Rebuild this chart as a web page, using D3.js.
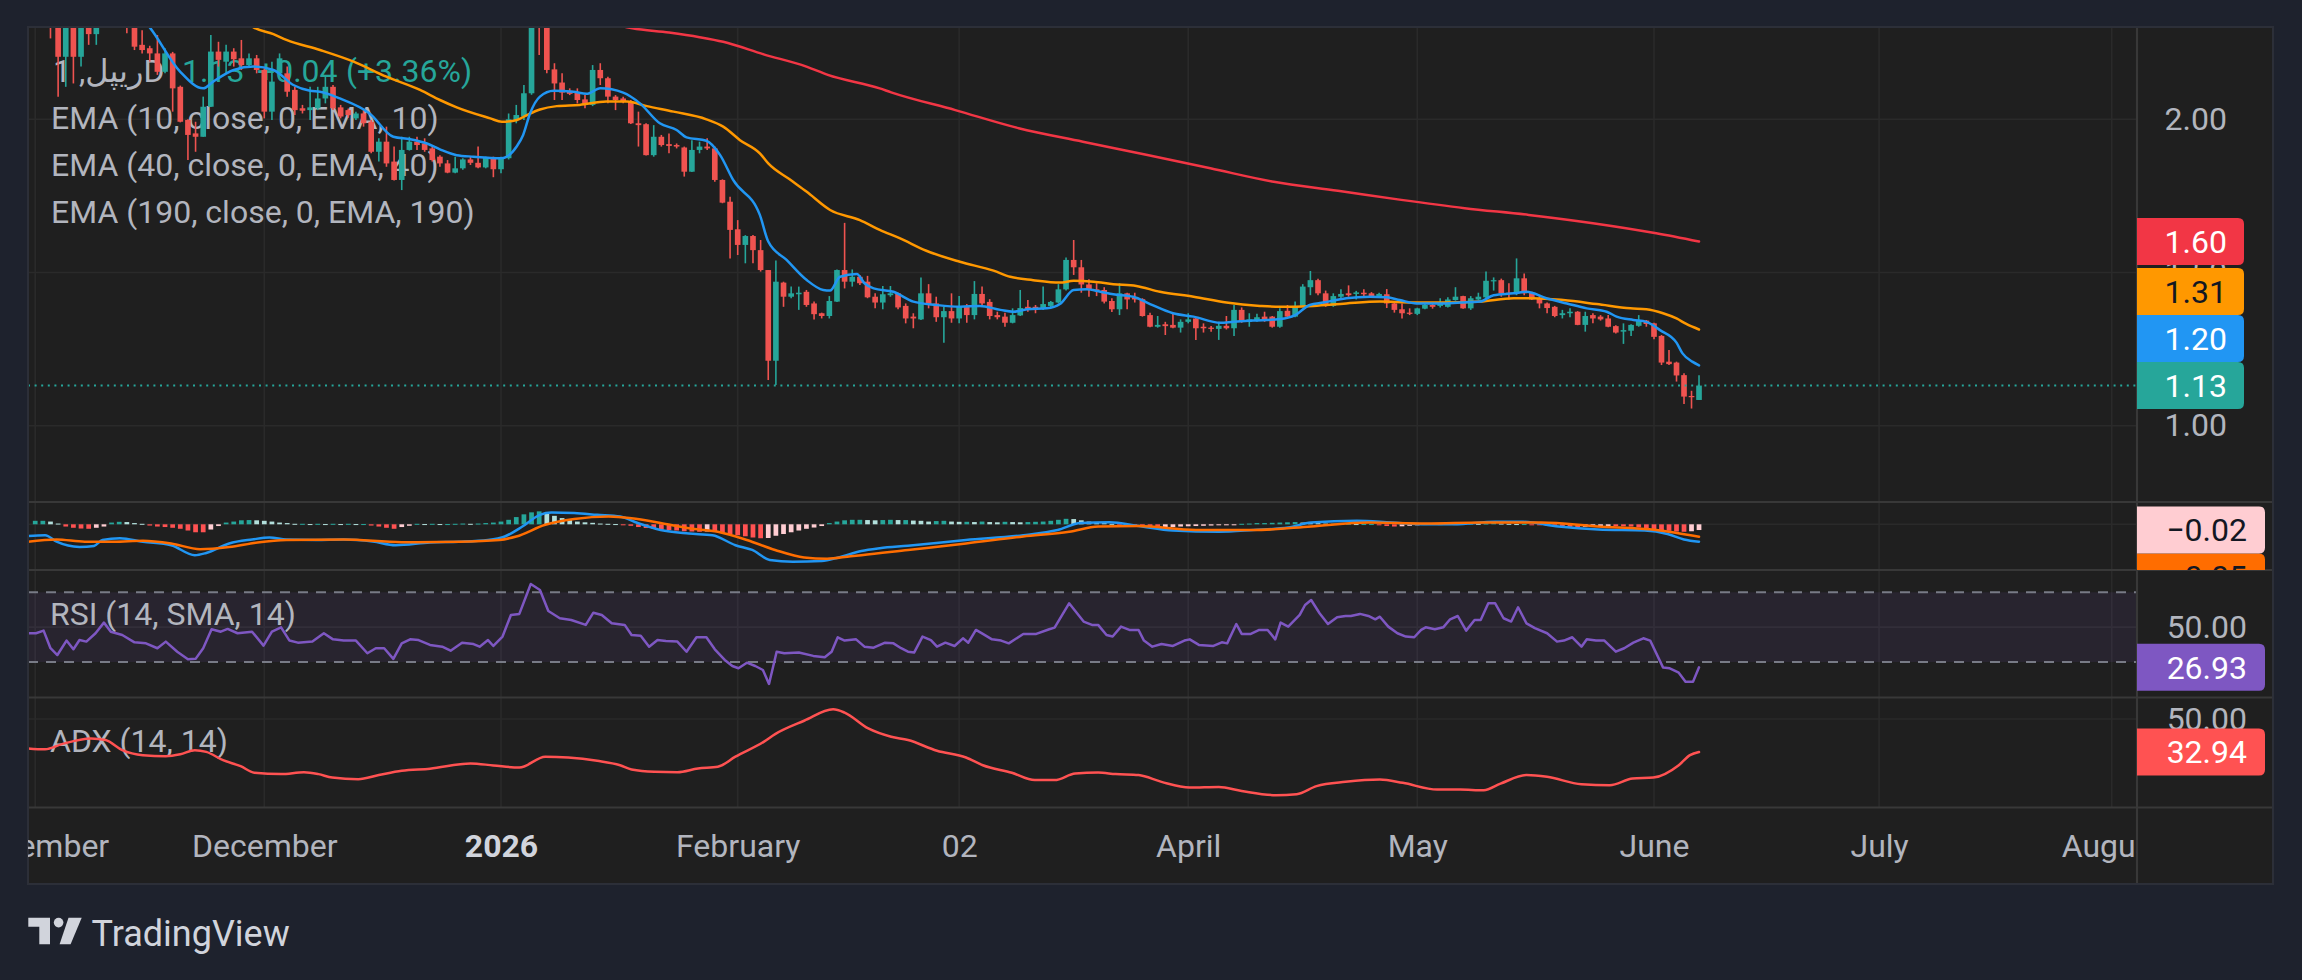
<!DOCTYPE html>
<html><head><meta charset="utf-8">
<script src="https://cdn.jsdelivr.net/npm/d3@7"></script>
<style>
html,body{margin:0;padding:0;background:#1e222d;}
svg{display:block;}
text{font-family:Roboto,"DejaVu Sans",sans-serif;}
</style></head><body>
<svg id="c" width="2302" height="980"></svg>
<script>
// ---------------- DATA ----------------
const firstBar = '2025-11-01';           // daily bars, consecutive days
// [open, high, low, close]
const candles = [
// November 2025
[2.40,2.45,2.33,2.38],[2.38,2.42,2.31,2.36],[2.36,2.42,2.264,2.33],[2.33,2.36,2.074,2.204],[2.204,2.36,2.106,2.32],
[2.32,2.35,2.117,2.204],[2.204,2.34,2.172,2.31],[2.31,2.33,2.243,2.278],[2.278,2.33,2.243,2.31],[2.31,2.38,2.30,2.36],
[2.36,2.40,2.32,2.38],[2.38,2.40,2.31,2.33],[2.33,2.36,2.281,2.31],[2.31,2.33,2.226,2.237],[2.243,2.291,2.215,2.226],
[2.232,2.24,2.188,2.215],[2.215,2.275,2.145,2.155],[2.155,2.232,2.150,2.215],[2.215,2.22,2.025,2.101],[2.106,2.11,1.99,1.992],
[1.998,2.00,1.867,1.949],[1.954,1.992,1.894,1.943],[1.943,2.074,1.943,2.041],[2.041,2.275,2.04,2.221],[2.221,2.253,2.172,2.194],
[2.188,2.243,2.150,2.221],[2.221,2.232,2.172,2.196],[2.199,2.259,2.161,2.177],[2.177,2.215,2.172,2.199],[2.199,2.210,2.150,2.161],
// December 2025
[2.161,2.166,2.003,2.025],[2.025,2.188,1.998,2.123],[2.150,2.215,2.145,2.199],[2.150,2.172,2.074,2.090],[2.096,2.106,2.014,2.030],
[2.036,2.047,2.019,2.028],[2.030,2.106,1.998,2.039],[2.036,2.106,2.030,2.068],[2.068,2.139,2.052,2.106],[2.106,2.112,2.030,2.036],
[2.039,2.047,2.003,2.009],[2.030,2.035,2.005,2.014],[2.003,2.025,1.998,2.019],[2.019,2.030,1.976,1.987],[1.992,1.998,1.889,1.894],
[1.894,1.938,1.862,1.927],[1.927,1.976,1.845,1.856],[1.862,1.911,1.80,1.802],[1.802,1.943,1.769,1.900],[1.900,1.943,1.898,1.927],
[1.927,1.943,1.900,1.916],[1.921,1.938,1.894,1.900],[1.905,1.911,1.862,1.867],[1.878,1.883,1.845,1.856],[1.856,1.867,1.824,1.826],
[1.826,1.878,1.824,1.840],[1.840,1.873,1.835,1.869],[1.869,1.878,1.851,1.858],[1.858,1.911,1.840,1.843],[1.843,1.878,1.840,1.876],
[1.876,1.878,1.811,1.837],
// January 2026
[1.837,1.878,1.824,1.873],[1.873,2.019,1.869,2.000],[1.998,2.047,1.987,2.014],[2.009,2.112,1.998,2.085],[2.085,2.40,2.08,2.33],
[2.40,2.45,2.210,2.32],[2.32,2.35,2.150,2.161],[2.163,2.183,2.063,2.117],[2.120,2.150,2.063,2.087],[2.093,2.101,2.079,2.083],
[2.087,2.101,2.052,2.063],[2.065,2.079,2.036,2.047],[2.047,2.177,2.043,2.161],[2.161,2.183,2.112,2.134],[2.134,2.139,2.052,2.074],
[2.074,2.079,2.030,2.063],[2.068,2.074,2.052,2.058],[2.058,2.063,1.985,1.987],[1.987,2.025,1.911,1.981],[1.984,1.987,1.882,1.883],
[1.883,1.981,1.878,1.943],[1.943,1.949,1.911,1.916],[1.919,1.954,1.889,1.913],[1.916,1.921,1.905,1.911],[1.908,1.911,1.813,1.829],
[1.829,1.932,1.828,1.900],[1.900,1.927,1.889,1.911],[1.911,1.938,1.900,1.905],[1.905,1.911,1.796,1.802],[1.802,1.804,1.726,1.728],
[1.731,1.747,1.546,1.639],
// February 2026
[1.641,1.671,1.557,1.590],[1.590,1.622,1.530,1.619],[1.619,1.622,1.530,1.573],[1.573,1.606,1.503,1.508],[1.508,1.508,1.149,1.212],
[1.212,1.539,1.133,1.470],[1.467,1.470,1.388,1.421],[1.421,1.454,1.416,1.432],[1.429,1.454,1.378,1.434],[1.437,1.443,1.388,1.394],
[1.399,1.405,1.347,1.364],[1.367,1.369,1.350,1.358],[1.358,1.423,1.350,1.407],[1.405,1.510,1.404,1.508],[1.508,1.662,1.448,1.470],
[1.470,1.510,1.454,1.486],[1.486,1.492,1.459,1.465],[1.470,1.489,1.416,1.419],[1.421,1.432,1.383,1.402],[1.402,1.456,1.380,1.429],
[1.426,1.456,1.421,1.432],[1.432,1.434,1.380,1.386],[1.391,1.399,1.334,1.350],[1.356,1.367,1.318,1.350],[1.347,1.484,1.345,1.432],
[1.432,1.462,1.383,1.397],[1.399,1.421,1.339,1.354],[1.354,1.388,1.271,1.374],
// March 2026
[1.374,1.432,1.336,1.350],[1.350,1.423,1.334,1.388],[1.391,1.397,1.336,1.361],[1.361,1.472,1.347,1.430],[1.430,1.454,1.394,1.399],
[1.404,1.413,1.347,1.358],[1.361,1.372,1.347,1.354],[1.356,1.369,1.323,1.336],[1.336,1.383,1.334,1.361],[1.360,1.443,1.358,1.384],
[1.388,1.410,1.372,1.380],[1.388,1.394,1.367,1.382],[1.382,1.454,1.378,1.397],[1.391,1.407,1.386,1.404],[1.402,1.462,1.399,1.445],
[1.445,1.549,1.441,1.541],[1.541,1.606,1.492,1.517],[1.517,1.541,1.434,1.461],[1.461,1.478,1.421,1.443],[1.445,1.465,1.423,1.441],
[1.443,1.452,1.399,1.405],[1.407,1.416,1.371,1.380],[1.380,1.465,1.361,1.432],[1.432,1.434,1.380,1.412],[1.419,1.434,1.402,1.412],
[1.413,1.416,1.356,1.358],[1.361,1.369,1.321,1.323],[1.323,1.358,1.320,1.329],[1.331,1.339,1.296,1.325],[1.329,1.367,1.318,1.320],
[1.320,1.347,1.304,1.339],
// April 2026
[1.339,1.367,1.334,1.347],[1.350,1.354,1.280,1.318],[1.323,1.334,1.304,1.318],[1.320,1.325,1.307,1.316],[1.316,1.339,1.280,1.326],
[1.326,1.358,1.314,1.318],[1.318,1.394,1.293,1.378],[1.378,1.386,1.336,1.339],[1.339,1.367,1.323,1.347],[1.345,1.365,1.339,1.354],
[1.356,1.372,1.339,1.347],[1.356,1.358,1.320,1.323],[1.323,1.383,1.320,1.374],[1.375,1.394,1.354,1.356],[1.356,1.405,1.354,1.391],
[1.391,1.462,1.388,1.454],[1.452,1.505,1.426,1.475],[1.475,1.480,1.426,1.432],[1.432,1.441,1.388,1.391],[1.391,1.432,1.388,1.423],
[1.421,1.445,1.412,1.430],[1.432,1.458,1.421,1.426],[1.430,1.440,1.412,1.435],[1.434,1.445,1.423,1.429],[1.432,1.436,1.419,1.421],
[1.421,1.434,1.417,1.430],[1.429,1.446,1.384,1.399],[1.399,1.402,1.369,1.378],[1.380,1.399,1.350,1.367],[1.369,1.383,1.361,1.365],
// May 2026
[1.365,1.385,1.361,1.383],[1.382,1.399,1.380,1.394],[1.394,1.402,1.382,1.388],[1.391,1.416,1.386,1.399],[1.388,1.419,1.386,1.412],
[1.410,1.452,1.408,1.421],[1.423,1.424,1.382,1.383],[1.383,1.423,1.378,1.416],[1.412,1.434,1.410,1.421],[1.419,1.503,1.416,1.473],
[1.471,1.484,1.441,1.475],[1.475,1.480,1.421,1.432],[1.434,1.465,1.412,1.430],[1.430,1.546,1.426,1.481],[1.481,1.497,1.426,1.432],
[1.434,1.437,1.410,1.412],[1.416,1.426,1.383,1.399],[1.399,1.402,1.367,1.384],[1.388,1.391,1.354,1.358],[1.361,1.378,1.350,1.367],
[1.367,1.383,1.354,1.372],[1.372,1.374,1.328,1.329],[1.329,1.372,1.307,1.358],[1.361,1.367,1.334,1.350],[1.356,1.361,1.343,1.347],
[1.350,1.361,1.321,1.323],[1.325,1.328,1.301,1.304],[1.307,1.334,1.267,1.312],[1.310,1.331,1.293,1.329],[1.326,1.361,1.323,1.343],
[1.343,1.345,1.323,1.332],
// June 2026
[1.334,1.336,1.282,1.290],[1.293,1.296,1.198,1.206],[1.209,1.247,1.198,1.201],[1.206,1.209,1.144,1.164],[1.165,1.171,1.071,1.095],
[1.097,1.114,1.056,1.093],[1.084,1.165,1.084,1.131]
];

// Indicator readings: [day offset from 2026-01-01, value]
const ema10 = [[-47,2.33],[-46,2.30],[-42,2.155],[-39,2.101],[-37.7,2.123],[-35,2.161],[-32.4,2.172],[-29.8,2.161],[-27.2,2.112],[-25,2.093],[-23.7,2.090],[-21.1,2.068],[-17.2,2.019],[-14.1,1.943],[-11.9,1.935],[-9.7,1.921],[-8,1.902],[-5.8,1.883],[-3.6,1.878],[0,1.873],[2.1,1.913],[2.9,1.949],[3.8,2.019],[5.1,2.074],[6.9,2.093],[9.5,2.090],[11.2,2.083],[13,2.101],[16,2.087],[18.2,2.052],[20.8,1.987],[23,1.965],[24.3,1.941],[26.9,1.930],[28.7,1.883],[30.4,1.802],[33.9,1.688],[35,1.601],[37.4,1.541],[40,1.476],[42.2,1.443],[43.1,1.441],[44.4,1.486],[46.6,1.495],[47.6,1.465],[48.8,1.448],[51.4,1.437],[54,1.405],[57,1.394],[60.1,1.388],[62.7,1.391],[65.4,1.378],[67.1,1.372],[68.9,1.380],[71.5,1.383],[73.2,1.397],[75,1.443],[76.7,1.445],[78.5,1.437],[80.2,1.429],[82.8,1.421],[85,1.397],[88,1.367],[90.7,1.356],[94.2,1.336],[95.9,1.339],[98.5,1.343],[102,1.348],[104,1.361],[105.9,1.394],[107.7,1.402],[110.7,1.416],[113.8,1.421],[116,1.419],[117.7,1.410],[119.9,1.399],[123,1.399],[125.6,1.402],[128.2,1.405],[130,1.426],[132.6,1.432],[134.3,1.437],[136.9,1.416],[139.6,1.399],[142.2,1.383],[144.8,1.372],[146.1,1.356],[148.3,1.345],[150,1.339],[151.8,1.312],[154,1.271],[154.8,1.236],[156.1,1.209],[157,1.197]];
const ema40 = [[-34,2.33],[-32.4,2.30],[-29.8,2.278],[-28.1,2.259],[-23.7,2.226],[-19.3,2.188],[-15,2.139],[-10.6,2.096],[-8,2.063],[-5.8,2.039],[-1.4,2.003],[0.1,1.992],[2.1,1.998],[3.4,2.014],[5.1,2.032],[7.3,2.043],[10.3,2.047],[13.8,2.058],[16.5,2.058],[19.1,2.043],[22.6,2.025],[26.9,2.000],[29.1,1.976],[31.3,1.932],[33.9,1.889],[35,1.856],[37.8,1.804],[40,1.764],[43.1,1.704],[47,1.671],[49.6,1.639],[52.2,1.612],[55.7,1.571],[60.1,1.535],[64.5,1.506],[66.7,1.486],[69.7,1.475],[73.2,1.467],[75,1.473],[77.6,1.470],[80.2,1.462],[83.2,1.456],[86.3,1.437],[90.7,1.421],[95,1.402],[99.4,1.391],[102,1.388],[106.4,1.391],[110.7,1.399],[115.1,1.405],[119.5,1.402],[123.8,1.402],[128.2,1.405],[132.6,1.416],[135.2,1.416],[139.1,1.410],[143.5,1.397],[147.9,1.383],[150,1.380],[152.2,1.367],[154,1.350],[155.3,1.332],[157,1.314]];
const ema190 = [[12,2.33],[17.2,2.297],[22,2.283],[26,2.268],[29.1,2.253],[34.4,2.212],[40,2.172],[42.8,2.145],[49.6,2.101],[51.1,2.088],[59.5,2.030],[67.8,1.971],[76.2,1.927],[84.5,1.884],[92.9,1.840],[101.2,1.796],[109.6,1.767],[117.9,1.737],[126.2,1.710],[134.6,1.688],[143,1.661],[151.3,1.628],[157,1.601]];

const macdLine = [[-62,-0.047],[-59.7,-0.044],[-58.2,-0.070],[-55.2,-0.091],[-53.3,-0.087],[-52.2,-0.063],[-49.9,-0.056],[-46.9,-0.070],[-43.2,-0.084],[-40.1,-0.124],[-38.6,-0.115],[-35.6,-0.077],[-32.6,-0.061],[-30.3,-0.053],[-28.1,-0.061],[-24.3,-0.063],[-20.6,-0.061],[-16.8,-0.069],[-13.8,-0.084],[-9.3,-0.073],[-5.5,-0.070],[-1.7,-0.063],[0.5,-0.049],[2.8,-0.009],[5.1,0.038],[6.6,0.047],[9.6,0.045],[12.6,0.038],[15.6,0.031],[17.9,0.005],[20.9,-0.023],[24.6,-0.037],[27.7,-0.044],[30.7,-0.084],[32.9,-0.103],[35.2,-0.143],[38.2,-0.150],[42,-0.147],[44.2,-0.133],[47.2,-0.107],[49.6,-0.096],[53.3,-0.086],[60.9,-0.063],[68.4,-0.044],[72.9,-0.023],[75.9,0.005],[79.7,0.008],[83.5,-0.007],[88,-0.025],[94,-0.030],[98.5,-0.023],[103.1,-0.013],[106.1,0.007],[112.1,0.014],[116.6,0.007],[121.1,0.000],[124.9,0.000],[130.2,0.010],[133.9,0.010],[138.5,-0.009],[143.7,-0.021],[149.8,-0.025],[152.8,-0.039],[155,-0.061],[157,-0.070]];
const signalLine = [[-62,-0.070],[-58.2,-0.061],[-54.5,-0.070],[-50.7,-0.070],[-46.9,-0.066],[-43.2,-0.077],[-39.4,-0.100],[-35.6,-0.091],[-31.9,-0.073],[-28.1,-0.063],[-20.6,-0.061],[-13,-0.072],[-5.5,-0.070],[-0.2,-0.063],[2,-0.049],[5.8,-0.002],[9.6,0.021],[14.1,0.031],[17.1,0.024],[20.9,0.005],[24.6,-0.016],[28.4,-0.030],[32.2,-0.063],[35.9,-0.103],[39.7,-0.133],[42.7,-0.138],[45.8,-0.128],[47.2,-0.124],[53.3,-0.103],[60.9,-0.077],[68.4,-0.049],[74.4,-0.030],[78.2,-0.009],[83.5,-0.007],[91,-0.023],[98.5,-0.023],[106.1,-0.009],[113.6,0.007],[121.1,0.003],[128.7,0.007],[136.2,0.007],[143.7,-0.009],[151.3,-0.023],[157,-0.050]];
// MACD histogram, one value per bar (from firstBar)
const macdHist = [
.014,.014,.011,.003,-.009,-.014,-.017,-.018,-.014,-.009,.007,.010,.009,.005,.002,
-.005,-.009,-.011,-.014,-.018,-.025,-.032,-.032,-.021,-.007,.007,.011,.016,.017,.016,.014,.011,
.007,.005,.002,.002,.001,.002,.001,.002,.001,.002,.001,.001,-.005,-.009,-.014,-.018,-.011,-.006,
.002,.001,.002,.001,.001,.002,.003,.002,.003,.005,.007,.011,.018,.029,.040,.048,.052,
.046,.034,.025,.017,.011,.008,.006,.003,.002,.001,-.002,
-.006,-.011,-.015,-.018,-.021,-.023,-.025,-.028,-.029,-.030,-.029,-.030,-.034,-.039,
-.044,-.048,-.053,-.056,-.055,-.046,-.039,-.032,-.025,-.018,-.013,-.007,
.005,.011,.016,.018,.018,.017,.016,.017,.018,.017,.017,.015,.014,.011,.013,.014,.011,.010,
.010,.009,.011,.009,.008,.010,.009,.008,.009,.010,.011,.014,.018,.022,.021,.016,.011,.008,.005,.002,
-.002,-.006,-.009,-.011,-.014,-.015,-.014,-.011,-.009,-.008,-.007,-.006,-.005,-.003,-.002,-.001,
.002,.003,.005,.005,.006,.007,.008,.009,.007,.006,.005,.003,.003,.002,.002,.001,.001,.001,
-.003,-.007,-.009,-.008,-.006,-.002,.001,.002,.001,.002,.001,.002,.003,.002,
.003,.005,.003,.002,.001,.001,-.001,-.002,
-.005,-.007,-.009,-.010,-.011,-.010,-.009,-.008,-.007,-.007,-.008,-.009,
-.013,-.016,-.019,-.023,-.026,-.029,-.030,-.028,-.023
];
const rsi = [[-62,46.5],[-60.9,46.5],[-59.9,48.0],[-59,37.9],[-58.1,34.0],[-56.9,42.3],[-56,37.3],[-55.2,42.6],[-54.3,41.7],[-53.1,46.5],[-52,52.6],[-51.1,47.4],[-49.6,45.5],[-48,41.3],[-46.5,40.7],[-45,37.9],[-43.9,41.7],[-42.4,35.9],[-41,31.6],[-40,31.8],[-39,37.9],[-37.9,48.8],[-36.7,47.4],[-35.8,49.0],[-34.5,46.5],[-32.6,47.4],[-31.1,39.4],[-30,47.4],[-28.8,49.9],[-27.7,42.3],[-26.6,41.1],[-24.7,41.7],[-23.2,46.5],[-22,43.0],[-20.6,42.3],[-19,42.3],[-17.5,35.0],[-16.4,37.9],[-15.3,37.9],[-14.1,31.8],[-13,40.7],[-11.9,43.0],[-10.8,42.6],[-9.3,39.8],[-7.7,38.8],[-6.6,36.5],[-5.1,41.1],[-3.6,40.3],[-2.8,38.8],[-1.7,42.6],[-1,39.2],[0.2,44.6],[1.3,57.0],[2.4,57.6],[3.9,74.8],[5.1,71.3],[6.2,59.3],[7.7,55.1],[9.2,54.1],[11.1,51.3],[12.1,58.3],[13.2,57.0],[14.5,52.2],[16.2,51.3],[17.1,45.5],[18.3,45.1],[19.4,38.8],[20.5,42.6],[21.6,42.1],[23.1,41.7],[24.3,35.9],[25.6,44.2],[26.9,44.2],[28,37.3],[29.3,31.2],[30.3,27.7],[31.1,26.4],[32.2,29.6],[33.3,27.7],[34.3,25.4],[35.1,17.4],[36.1,35.9],[37.1,35.0],[39,35.4],[40.9,33.5],[42.4,32.7],[43.3,35.9],[44.1,44.2],[45,42.3],[46.5,43.0],[47.6,38.8],[48.8,38.2],[50.3,41.1],[51.4,40.7],[52.4,37.9],[53.3,35.9],[54.1,35.4],[55.2,44.6],[56.3,42.6],[57.1,38.8],[58.2,41.1],[59.4,39.2],[60.5,43.6],[61.2,41.1],[62.2,48.4],[63.1,46.1],[64.3,43.0],[65.5,42.3],[66.5,40.7],[68.4,46.1],[70.1,46.1],[71.8,48.8],[72.5,49.7],[74.4,63.7],[76.3,53.2],[77.4,51.3],[78.2,51.3],[79.3,45.5],[80.1,44.6],[81.2,50.3],[82.3,48.4],[83.5,48.4],[84.2,42.3],[85.3,38.8],[86.5,40.3],[88,39.2],[89.5,42.3],[90.2,43.0],[91.4,39.8],[93.3,39.2],[94.4,41.3],[95.1,40.7],[96.3,51.8],[97,46.1],[98.2,46.1],[99.3,48.4],[100.4,48.4],[101.4,43.0],[102.1,52.6],[103.1,50.3],[104.6,57.0],[105.3,62.7],[106.1,65.6],[107.2,58.0],[108.3,51.8],[109.5,55.7],[110.6,56.4],[111.3,56.4],[112.5,57.6],[113.6,56.4],[114.5,54.5],[115.1,56.0],[116.2,50.3],[117.4,46.5],[118.5,44.6],[119.6,44.2],[120.5,48.4],[121.1,49.9],[122.3,48.8],[123.4,49.9],[124.3,54.5],[125.3,56.4],[126.4,48.0],[127.5,54.1],[128.3,54.1],[129.3,63.7],[130.2,63.7],[131.3,55.1],[132.3,53.2],[133.2,61.4],[134.3,52.2],[135.4,49.4],[137,46.5],[138.3,41.7],[139.2,42.3],[140.3,44.2],[141.5,38.8],[142.2,43.0],[143.4,42.3],[144.5,42.3],[146,35.9],[147.1,37.9],[148.3,41.1],[149.6,43.6],[150.5,42.3],[152.2,26.9],[153.1,26.4],[154.3,23.9],[155.2,18.7],[156.2,18.7],[157,26.93]];
const adx = [[-62,34.8],[-59.7,34.3],[-57.5,37.0],[-53.7,39.9],[-51.8,39.1],[-49.6,33.9],[-46.9,31.3],[-43.9,30.8],[-42,31.8],[-40.1,33.9],[-38.6,33.0],[-36.4,28.7],[-34.1,25.6],[-32.3,22.2],[-28.8,21.5],[-25.8,22.5],[-23.9,21.5],[-22.1,19.7],[-18.7,18.9],[-16,21.0],[-13,23.2],[-9.3,24.3],[-4,27.0],[-1,26.0],[2.4,24.9],[5.8,30.5],[8.8,30.1],[12.6,28.4],[15.6,26.1],[17.1,23.9],[20.1,22.7],[23.1,22.5],[25.8,24.4],[28.4,25.3],[30.7,30.5],[34.4,38.2],[35.9,42.2],[39.7,49.1],[43.5,55.0],[45,53.3],[48.1,45.1],[51.1,40.8],[53.3,39.1],[57.1,33.6],[60.9,30.1],[63.1,26.1],[66.9,22.2],[69.9,18.4],[72.5,18.4],[75.2,21.8],[78.2,22.3],[80.5,21.5],[83.5,21.0],[86.5,17.5],[90.2,14.6],[94,14.9],[97,12.8],[101.5,10.6],[104.2,11.1],[106.8,15.3],[110.6,17.5],[115.1,18.7],[118.1,17.0],[122.6,13.5],[125.6,13.5],[128.7,13.2],[130.9,16.6],[134.3,21.0],[137,20.1],[141.5,16.3],[145.2,15.8],[148.2,19.2],[150.9,19.7],[154.3,26.1],[155.8,31.3],[157,32.94]];

const timeTicks = [['2025-11-01','November'],['2025-12-01','December'],['2026-01-01','2026'],['2026-02-01','February'],['2026-03-02','02'],['2026-04-01','April'],['2026-05-01','May'],['2026-06-01','June'],['2026-07-01','July'],['2026-08-01','August']];
const priceTicks = [1.00, 1.50, 2.00];
const titleName = 'ریپل, 1D';
const titleValues = ['1.13', '+0.04', '(+3.36%)'];
const legendLines = ['EMA (10, close, 0, EMA, 10)', 'EMA (40, close, 0, EMA, 40)', 'EMA (190, close, 0, EMA, 190)'];

// ---------------- LAYOUT ----------------
const FS = 32;
const svg = d3.select('#c');
const L = 28, R = 2137, RR = 2273, T = 27, B = 884;
const P = {price:[T,502], macd:[502,570], rsi:[570,697.5], adx:[697.5,807.5], time:[807.5,B]};
const UP = '#26a69a', DN = '#ef5350', GRID = '#2a2a2a', SEP = '#383838', TXT = '#b2b5be';

const parse = d3.utcParse('%Y-%m-%d');
const J1 = Date.UTC(2026,0,1), DAY = 864e5;
const x = d3.scaleUtc()
  .domain([new Date(J1), parse('2026-06-01'), parse('2026-08-01')])
  .range([501, 1654, 2111.7]);
const xd = d => x(new Date(J1 + d*DAY));
const step = x(new Date(J1 + DAY)) - x(new Date(J1));
const firstD = (parse(firstBar) - J1) / DAY;

const yP = d3.scaleLinear().domain([1, 2]).range([425.7, 119.3]);
const yM = d3.scaleLinear().domain([0, -0.1]).range([524.3, 549.2]);
const yR = d3.scaleLinear().domain([30, 70]).range([662, 592.3]);
const yA = d3.scaleLinear().domain([0, 50]).range([815.7, 719]);

svg.append('rect').attr('width',2302).attr('height',980).attr('fill','#1e222d');
svg.append('rect').attr('x',L).attr('y',T).attr('width',RR-L).attr('height',B-T).attr('fill','#1f1f1f');

const defs = svg.append('defs');
function clip(id, x0, y0, x1, y1){
  defs.append('clipPath').attr('id',id).append('rect').attr('x',x0).attr('y',y0).attr('width',x1-x0).attr('height',y1-y0);
  return 'url(#'+id+')';
}
const cPrice = clip('cp', L, P.price[0], R, P.price[1]);
const cMacd = clip('cm', L, P.macd[0], R, P.macd[1]);
const cRsi = clip('cr', L, P.rsi[0], R, P.rsi[1]);
const cAdx = clip('ca', L, P.adx[0], R, P.adx[1]);
const cTime = clip('ct', L, P.time[0], R, P.time[1]);
const cMacdAx = clip('cma', R, P.macd[0], RR, P.macd[1]);

// vertical grid
const tickDates = timeTicks.map(t => parse(t[0]));
svg.append('g').selectAll('line').data(tickDates).join('line')
  .attr('x1', d => x(d)).attr('x2', d => x(d)).attr('y1', T).attr('y2', P.adx[1])
  .attr('stroke', GRID).attr('stroke-width', 1.6);

// horizontal grid
const hg = svg.append('g').attr('stroke', GRID).attr('stroke-width', 1.6);
priceTicks.forEach(v => hg.append('line').attr('x1',L).attr('x2',R).attr('y1',yP(v)).attr('y2',yP(v)));
hg.append('line').attr('x1',L).attr('x2',R).attr('y1',yM(0)).attr('y2',yM(0));
hg.append('line').attr('x1',L).attr('x2',R).attr('y1',yR(50)).attr('y2',yR(50));
hg.append('line').attr('x1',L).attr('x2',R).attr('y1',yA(50)).attr('y2',yA(50));

// RSI band
svg.append('rect').attr('x',L).attr('width',R-L).attr('y',yR(70)).attr('height',yR(30)-yR(70))
  .attr('fill','rgba(126,87,194,0.1)');
[70,30].forEach(v => svg.append('line').attr('x1',L).attr('x2',R).attr('y1',yR(v)).attr('y2',yR(v))
  .attr('stroke','#787b86').attr('stroke-width',2).attr('stroke-dasharray','10,8'));

// legends (drawn under the series)
const lg = svg.append('g').attr('font-size',FS).attr('fill',TXT);
lg.append('text').attr('x',53).attr('y',82).attr('direction','ltr').text(titleName);
const tv = lg.append('text').attr('y',82).attr('fill',UP);
[182,257,346].forEach((xx,i) => tv.append('tspan').attr('x',xx).text(titleValues[i]));
legendLines.forEach((s,i) => lg.append('text').attr('x',51).attr('y',129 + i*47).text(s));
lg.append('text').attr('x',50).attr('y',625).text('RSI (14, SMA, 14)');
lg.append('text').attr('x',50).attr('y',751.7).text('ADX (14, 14)');

// candles
const bars = candles.map((c,i) => ({d: firstD + i, o:c[0], h:c[1], l:c[2], c:c[3]}));
const gc = svg.append('g').attr('clip-path', cPrice);
gc.selectAll('line.w').data(bars).join('line').attr('class','w')
  .attr('x1', b => xd(b.d)).attr('x2', b => xd(b.d))
  .attr('y1', b => yP(b.h)).attr('y2', b => yP(b.l))
  .attr('stroke', b => b.c >= b.o ? UP : DN).attr('stroke-width', 1.6);
const bw = step * 0.74;
gc.selectAll('rect').data(bars).join('rect')
  .attr('x', b => xd(b.d) - bw/2).attr('width', bw)
  .attr('y', b => yP(Math.max(b.o, b.c)))
  .attr('height', b => Math.max(1.2, Math.abs(yP(b.o) - yP(b.c))))
  .attr('fill', b => b.c >= b.o ? UP : DN);

// EMA lines
function line(data, yS, color, g, curve){
  g.append('path').datum(data)
    .attr('d', d3.line().x(p => xd(p[0])).y(p => yS(p[1])).curve(curve || d3.curveMonotoneX))
    .attr('fill','none').attr('stroke',color).attr('stroke-width',2.5)
    .attr('stroke-linejoin','round').attr('stroke-linecap','round');
}
line(ema190, yP, '#f23645', gc);
line(ema40, yP, '#ff9800', gc);
line(ema10, yP, '#2196f3', gc);

// last price dotted line
const last = bars[bars.length-1];
svg.append('line').attr('x1',L).attr('x2',R).attr('y1',yP(last.c)).attr('y2',yP(last.c))
  .attr('stroke',UP).attr('stroke-width',2).attr('stroke-dasharray','2,4.6');

// MACD
const gm = svg.append('g').attr('clip-path', cMacd);
const hist = macdHist.map((v,i) => ({d: firstD + i, v, p: i ? macdHist[i-1] : v}));
const hw = step * 0.62;
gm.selectAll('rect').data(hist).join('rect')
  .attr('x', h => xd(h.d) - hw/2).attr('width', hw)
  .attr('y', h => Math.min(yM(0), yM(h.v)))
  .attr('height', h => Math.max(1, Math.abs(yM(h.v) - yM(0))))
  .attr('fill', h => h.v >= 0 ? (h.v >= h.p ? '#26a69a' : '#b2dfdb') : (h.v <= h.p ? '#ff5252' : '#ffcdd2'));
line(macdLine, yM, '#2196f3', gm);
line(signalLine, yM, '#ff6d00', gm);

// RSI & ADX
const gr = svg.append('g').attr('clip-path', cRsi);
line(rsi, yR, '#7e57c2', gr, d3.curveLinear);
const ga = svg.append('g').attr('clip-path', cAdx);
line(adx, yA, '#ff5252', ga);

// separators and frame
const sg = svg.append('g').attr('stroke', SEP).attr('stroke-width', 2.2);
[P.macd[0], P.rsi[0], P.adx[0], P.time[0]].forEach(y => sg.append('line').attr('x1',L).attr('x2',RR).attr('y1',y).attr('y2',y));
sg.append('line').attr('x1',R).attr('x2',R).attr('y1',T).attr('y2',B);
svg.append('rect').attr('x',L).attr('y',T).attr('width',RR-L).attr('height',B-T)
  .attr('fill','none').attr('stroke','#2c2f38').attr('stroke-width',2);

// time axis
const tAxis = d3.axisBottom(x).tickValues(tickDates)
  .tickFormat((d,i) => timeTicks[i][1]).tickSize(0);
const taWrap = svg.append('g').attr('clip-path', cTime);
const ta = taWrap.append('g').attr('transform','translate(0,'+P.time[0]+')').call(tAxis);
ta.select('.domain').remove();
ta.selectAll('text').attr('y', 49.5).attr('dy', 0)
  .attr('font-size', FS).attr('font-family','Roboto, sans-serif')
  .attr('fill', (d,i) => i === 2 ? '#d1d4dc' : TXT)
  .attr('font-weight', (d,i) => i === 2 ? 700 : 400);

// value axes
function valueAxis(scale, ticks, fmt, textRight){
  const a = d3.axisRight(scale).tickValues(ticks).tickFormat(fmt).tickSize(0);
  const g = svg.append('g').attr('transform','translate('+R+',0)').call(a);
  g.select('.domain').remove();
  g.selectAll('text').attr('x', textRight - R).attr('text-anchor','end')
    .attr('font-size',FS).attr('font-family','Roboto, sans-serif').attr('fill',TXT);
  return g;
}
valueAxis(yP, priceTicks, d3.format('.2f'), 2227);
valueAxis(yR, [50], d3.format('.2f'), 2247);
valueAxis(yA, [50], d3.format('.2f'), 2247);

// value labels
function rrPath(x0, y0, w, h, r){
  return `M${x0},${y0}H${x0+w-r}Q${x0+w},${y0} ${x0+w},${y0+r}V${y0+h-r}Q${x0+w},${y0+h} ${x0+w-r},${y0+h}H${x0}Z`;
}
const LH = 47;
function tag(g, cy, text, bg, fg, w, textRight){
  g.append('path').attr('d', rrPath(R, cy - LH/2, w, LH, 6)).attr('fill', bg);
  g.append('text').attr('x', textRight).attr('y', cy).attr('dy','0.35em').attr('text-anchor','end')
    .attr('font-size',FS).attr('fill',fg).text(text);
}
const fmt2 = v => d3.format('.2f')(v).replace('-', '\u2212');
// price pane labels, stacked upwards from the last price
const pl = [
  {v: last.c, bg: UP, fg:'#fff'},
  {v: ema10[ema10.length-1][1], bg:'#2196f3', fg:'#fff'},
  {v: ema40[ema40.length-1][1], bg:'#ff9800', fg:'#131722'},
  {v: ema190[ema190.length-1][1], bg:'#f23645', fg:'#fff'}
];
let prevY = null;
const gl = svg.append('g');
pl.forEach(p => {
  let cy = yP(p.v);
  if (prevY !== null) cy = Math.min(cy, prevY - LH);
  prevY = cy;
  p.cy = cy;
});
pl.slice().reverse().forEach(p => tag(gl, p.cy, fmt2(p.v), p.bg, p.fg, 107, 2227));
// MACD labels
const gml = svg.append('g').attr('clip-path', cMacdAx);
const hLast = macdHist[macdHist.length-1], sLast = signalLine[signalLine.length-1][1];
const hy = yM(hLast);
tag(gml, Math.max(yM(sLast), hy + LH), fmt2(sLast), '#ff6d00', '#131722', 128, 2247);
tag(gml, hy, fmt2(hLast), '#ffcdd2', '#131722', 128, 2247);
// RSI / ADX labels
tag(svg.append('g'), yR(rsi[rsi.length-1][1]), fmt2(rsi[rsi.length-1][1]), '#7e57c2', '#fff', 128, 2247);
tag(svg.append('g'), yA(adx[adx.length-1][1]), fmt2(adx[adx.length-1][1]), '#ff5252', '#fff', 128, 2247);

// TradingView logo
const logo = svg.append('g').attr('fill','#d1d4dc');
logo.append('path').attr('d','M28.3,917.7H50V944.3H39.3V926.7H28.3Z');
logo.append('circle').attr('cx',58.6).attr('cy',922.6).attr('r',4.8);
logo.append('path').attr('d','M68.5,917.7H81.7L70.6,944.3H59.6Z');
logo.append('text').attr('x',91.5).attr('y',945.7).attr('font-size',36).text('TradingView');
</script></body></html>
